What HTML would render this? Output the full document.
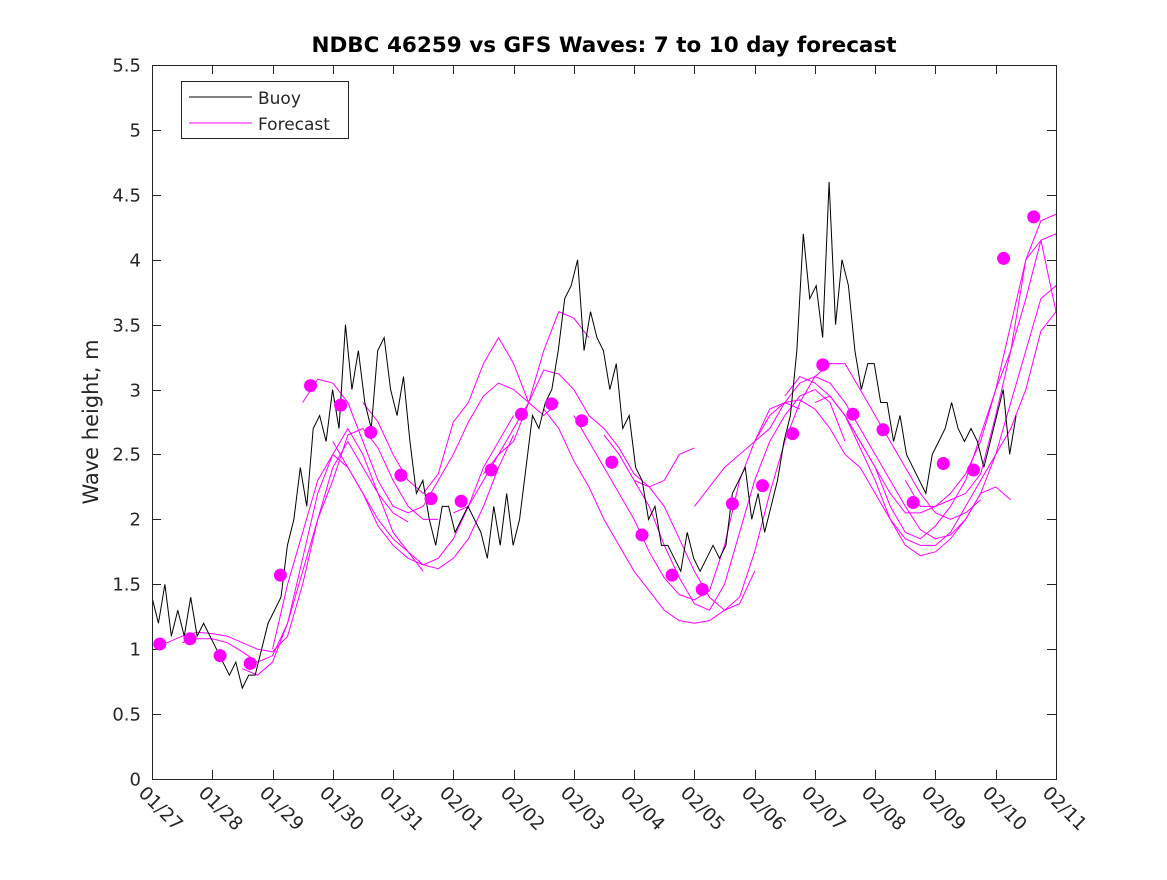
<!DOCTYPE html>
<html><head><meta charset="utf-8"><style>
body{margin:0;background:#fff}
svg text{font-family:"DejaVu Sans","Liberation Sans",sans-serif;fill:#262626}
</style></head><body>
<svg id="chart" width="1167" height="875" viewBox="0 0 1167 875" xmlns="http://www.w3.org/2000/svg">
<rect x="0" y="0" width="1167" height="875" fill="#fff"/>
<text x="604" y="52" text-anchor="middle" font-size="21.5" font-weight="bold" style="fill:#000">NDBC 46259 vs GFS Waves: 7 to 10 day forecast</text>
<text transform="translate(98,422) rotate(-90)" text-anchor="middle" font-size="21">Wave height, m</text>
<defs><clipPath id="pc"><rect x="152" y="65" width="904" height="714"/></clipPath></defs>
<g id="ticks"></g>
<g id="series" clip-path="url(#pc)"></g>
<g id="dots"></g>
<rect x="152.5" y="65.5" width="904" height="714" fill="none" stroke="#262626" stroke-width="1"/>
<g>
<rect x="181.5" y="81.5" width="167" height="57" fill="#fff" stroke="#262626"/>
<line x1="189" y1="97" x2="252" y2="97" stroke="#000"/>
<text x="258" y="104" font-size="17">Buoy</text>
<line x1="189" y1="123" x2="252" y2="123" stroke="#f0f"/>
<text x="258" y="130" font-size="17">Forecast</text>
</g>
</svg>
<script>
const xLabels=["01/27","01/28","01/29","01/30","01/31","02/01","02/02","02/03","02/04","02/05","02/06","02/07","02/08","02/09","02/10","02/11"];
const yTicks=[0,0.5,1,1.5,2,2.5,3,3.5,4,4.5,5,5.5];
const buoyStart=0, buoyStep=0.107;
const buoy=[1.4,1.2,1.5,1.1,1.3,1.1,1.4,1.1,1.2,1.1,
1.0,0.9,0.8,0.9,0.7,0.8,0.8,1.0,1.2,1.3,
1.4,1.8,2.0,2.4,2.1,2.7,2.8,2.6,3.0,2.7,
3.5,3.0,3.3,2.9,2.7,3.3,3.4,3.0,2.8,3.1,
2.6,2.2,2.3,2.0,1.8,2.1,2.1,1.9,2.0,2.1,
2.0,1.9,1.7,2.1,1.8,2.2,1.8,2.0,2.4,2.8,
2.7,2.9,3.0,3.3,3.7,3.8,4.0,3.3,3.6,3.4,
3.3,3.0,3.2,2.7,2.8,2.4,2.3,2.0,2.1,1.8,
1.8,1.7,1.6,1.9,1.7,1.6,1.7,1.8,1.7,1.8,
2.2,2.3,2.4,2.0,2.2,1.9,2.1,2.3,2.6,2.8,
3.3,4.2,3.7,3.8,3.4,4.6,3.5,4.0,3.8,3.3,
3.0,3.2,3.2,2.9,2.9,2.6,2.8,2.5,2.4,2.3,
2.2,2.5,2.6,2.7,2.9,2.7,2.6,2.7,2.6,2.4,
2.6,2.8,3.0,2.5,2.8];
const fcStep=0.25;
const fcStarts=[0,0.5,1.5,2,2.5,3,3.5,5,5.5,6.5,7,7.5,8,9,10,10.5,11,11.5,12.5];
const fc=[
[1.03,1.05,1.1,1.13,1.12,1.1,1.05,1.0,0.98,1.1,1.5,2.0,2.4,2.6,2.4,2.2,2.05,1.98],
[1.05,1.08,1.08,1.05,0.98,0.9,0.95,1.2,1.6,2.0,2.3,2.65,2.7,2.55,2.3,2.1,2.0,2.0],
[0.85,0.8,0.9,1.2,1.7,2.2,2.5,2.7,2.5,2.2,1.9,1.75,1.65,1.62,1.7,1.85,2.1,2.4,2.65],
[1.0,1.5,1.9,2.3,2.5,2.4,2.2,2.0,1.85,1.75,1.6],
[2.9,3.08,3.05,2.9,2.6,2.3,2.1,2.05,2.1,2.3,2.5,2.75,2.95,3.05,3.0,2.9],
[2.6,2.4,2.2,1.95,1.8,1.7,1.65,1.7,1.85,2.1,2.4,2.6,2.8],
[2.9,2.75,2.5,2.3,2.2,2.35,2.75,2.9,3.2,3.4,3.2,2.9,2.8,2.9],
[2.05,2.1,2.3,2.5,2.7,2.9,3.15,3.12,3.0,2.8,2.7,2.55,2.35,2.25,2.3,2.5,2.55],
[2.35,2.5,2.6,2.9,3.3,3.6,3.55,3.4],
[2.85,2.7,2.45,2.25,2.0,1.8,1.6,1.45,1.3,1.22,1.2,1.22,1.3,1.35,1.6],
[2.8,2.6,2.4,2.2,2.0,1.75,1.55,1.42,1.38,1.45,1.8,2.3,2.6,2.85,2.9,2.85],
[2.65,2.5,2.3,2.1,1.8,1.55,1.35,1.3,1.5,1.9,2.3,2.6,2.8,2.95,3.0,2.9,2.6],
[2.3,2.25,2.1,1.85,1.6,1.4,1.3,1.4,1.75,2.2,2.6,2.9,3.1,3.2,3.2,3.0,2.8,2.6,2.4,2.2,2.05,2.0,2.05,2.15],
[2.1,2.25,2.4,2.5,2.6,2.8,2.9,2.92,2.85,2.7,2.5,2.4,2.2,2.0,1.85,1.8,1.8,1.9,2.1,2.3,2.5,2.7,3.0,3.45,3.6],
[2.6,2.7,2.9,3.05,3.1,3.05,2.9,2.7,2.5,2.3,2.1,1.92,1.85,1.88,2.0,2.2,2.5,2.9,3.3,3.7,3.8,3.4],
[2.95,3.1,3.05,2.95,2.8,2.6,2.4,2.2,2.05,2.05,2.1,2.2,2.35,2.6,3.0,3.5,4.0,4.15,3.6],
[2.9,2.95,2.8,2.55,2.3,2.0,1.8,1.72,1.75,1.85,2.0,2.2,2.25,2.15],
[2.8,2.6,2.4,2.1,1.9,1.85,1.95,2.1,2.3,2.65,3.0,3.3,3.7,4.15,4.2,3.2],
[2.3,2.1,2.1,2.15,2.2,2.35,2.8,3.3,4.0,4.3,4.35,4.2,3.8,3.3,2.8]];
const dotStart=0.13, dotStep=0.5;
const dots=[1.04,1.08,0.95,0.89,1.57,3.03,2.88,2.67,2.34,2.16,2.14,2.38,2.81,2.89,2.76,2.44,1.88,1.57,1.46,2.12,2.26,2.66,3.19,2.81,2.69,2.13,2.43,2.38,4.01,4.33];

const NS="http://www.w3.org/2000/svg";
const X0=152,X1=1056,Y0=779,Y1=65;
const xs=d=>X0+(X1-X0)*d/15;
const ys=v=>Y0-(Y0-Y1)*v/5.5;
function mk(tag,attrs,parent){const e=document.createElementNS(NS,tag);for(const k in attrs)e.setAttribute(k,attrs[k]);parent.appendChild(e);return e;}
const tg=document.getElementById('ticks');
yTicks.forEach(v=>{
  const y=Math.round(ys(v))+0.5;
  const l1=mk('line',{x1:152,y1:y,x2:161,y2:y,stroke:'#262626'},tg);
  
  
  const l2=mk('line',{x1:1047,y1:y,x2:1056,y2:y,stroke:'#262626'},tg);
  
  
  const t=mk('text',{x:141,y:y+6,'text-anchor':'end','font-size':18},tg);
  t.textContent=String(v);
  
  
});
xLabels.forEach((s,i)=>{
  const x=Math.round(xs(i))+0.5;
  const l1=mk('line',{x1:x,y1:779,x2:x,y2:770,stroke:'#262626'},tg);
  
  
  const l2=mk('line',{x1:x,y1:65,x2:x,y2:74,stroke:'#262626'},tg);
  
  
  const t=mk('text',{transform:`translate(${x-15},${794}) rotate(45)`,'font-size':18.5},tg);
  t.textContent=s;
  
  
});
const sg=document.getElementById('series');
fc.forEach((arr,j)=>{
  const p=mk('polyline',{points:arr.map((v,i)=>xs(fcStarts[j]+i*fcStep)+','+ys(v)).join(' '),fill:'none',stroke:'#f0f','stroke-width':1},sg);
  
  
});
const bp=mk('polyline',{points:buoy.map((v,i)=>xs(buoyStart+i*buoyStep)+','+ys(v)).join(' '),fill:'none',stroke:'#000','stroke-width':1},sg);


const dg=document.getElementById('dots');
dots.forEach((v,i)=>{
  const c=mk('circle',{cx:xs(dotStart+i*dotStep),cy:ys(v),r:6.5,fill:'#f0f'},dg);
  
  
});
</script>
</body></html>
